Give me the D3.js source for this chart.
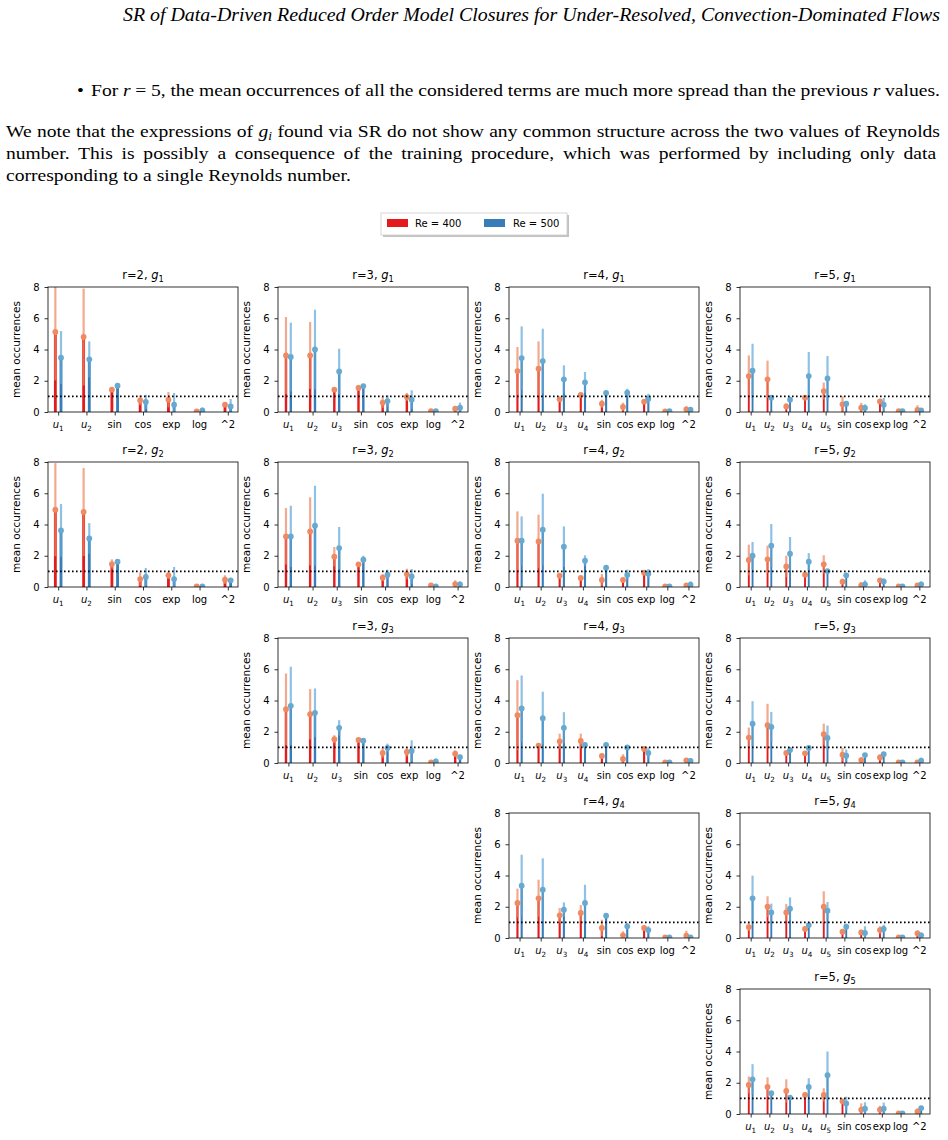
<!DOCTYPE html>
<html>
<head>
<meta charset="utf-8">
<script src="https://cdn.jsdelivr.net/npm/d3@7"></script>
<style>
  body { margin: 0; background: #fff; }
  svg text { font-family: "DejaVu Sans", sans-serif; }
  svg text.serif { font-family: "Liberation Serif", "Times New Roman", Times, serif; }
</style>
</head>
<body>
<div id="chart"></div>
<script>
// Tick labels
var stateVars = ["u1", "u2", "u3", "u4", "u5"];
var funcTerms = ["sin", "cos", "exp", "log", "^2"];
var seriesNames = ["Re = 400", "Re = 500"];

// mean / std of occurrences (order: u_1..u_r, sin, cos, exp, log, ^2)
var r2g1_m400 = [5.12, 4.80, 1.43, 0.75, 0.79, 0.04, 0.47];
var r2g1_s400 = [3.10, 3.10, 0.05, 0.32, 0.49, 0.04, 0.10];
var r2g1_m500 = [3.48, 3.37, 1.68, 0.64, 0.47, 0.10, 0.36];
var r2g1_s500 = [1.70, 1.15, 0.05, 0.46, 0.75, 0.18, 0.47];

var r2g2_m400 = [4.95, 4.80, 1.47, 0.51, 0.75, 0.04, 0.47];
var r2g2_s400 = [2.98, 2.81, 0.30, 0.43, 0.25, 0.02, 0.28];
var r2g2_m500 = [3.62, 3.11, 1.62, 0.64, 0.51, 0.04, 0.43];
var r2g2_s500 = [1.69, 0.98, 0.05, 0.58, 0.77, 0.03, 0.05];

var r3g1_m400 = [3.62, 3.62, 1.43, 1.54, 0.60, 0.96, 0.06, 0.21];
var r3g1_s400 = [2.46, 2.14, 0.05, 0.20, 0.36, 0.26, 0.03, 0.17];
var r3g1_m500 = [3.52, 4.00, 2.60, 1.66, 0.70, 0.79, 0.06, 0.28];
var r3g1_s500 = [2.20, 2.55, 1.45, 0.05, 0.37, 0.60, 0.03, 0.32];

var r3g2_m400 = [3.24, 3.56, 1.94, 1.45, 0.60, 0.83, 0.10, 0.19];
var r3g2_s400 = [1.81, 2.18, 0.62, 0.05, 0.23, 0.34, 0.05, 0.24];
var r3g2_m500 = [3.24, 3.92, 2.49, 1.75, 0.79, 0.68, 0.04, 0.17];
var r3g2_s500 = [1.96, 2.56, 1.35, 0.25, 0.32, 0.47, 0.03, 0.19];

var r3g3_m400 = [3.44, 3.12, 1.52, 1.48, 0.64, 0.71, 0.04, 0.60];
var r3g3_s400 = [2.29, 1.61, 0.26, 0.05, 0.32, 0.30, 0.02, 0.21];
var r3g3_m500 = [3.66, 3.21, 2.25, 1.43, 0.96, 0.77, 0.10, 0.38];
var r3g3_s500 = [2.50, 1.56, 0.49, 0.05, 0.28, 0.68, 0.18, 0.15];

var r4g1_m400 = [2.62, 2.77, 0.81, 1.09, 0.53, 0.32, 0.66, 0.04, 0.17];
var r4g1_s400 = [1.54, 1.75, 0.10, 0.08, 0.26, 0.28, 0.08, 0.03, 0.20];
var r4g1_m500 = [3.45, 3.26, 2.09, 1.90, 1.22, 1.24, 0.85, 0.06, 0.15];
var r4g1_s500 = [2.03, 2.07, 0.90, 0.66, 0.07, 0.25, 0.32, 0.03, 0.17];

var r4g2_m400 = [2.96, 2.92, 0.72, 0.58, 0.45, 0.45, 0.92, 0.04, 0.10];
var r4g2_s400 = [1.88, 1.71, 0.18, 0.08, 0.38, 0.17, 0.05, 0.02, 0.09];
var r4g2_m500 = [2.96, 3.67, 2.58, 1.68, 1.24, 0.77, 0.85, 0.04, 0.15];
var r4g2_s500 = [1.56, 2.30, 1.30, 0.35, 0.05, 0.34, 0.30, 0.03, 0.21];

var r4g3_m400 = [3.06, 1.11, 1.39, 1.41, 0.45, 0.26, 0.90, 0.04, 0.17];
var r4g3_s400 = [2.24, 0.05, 0.49, 0.47, 0.15, 0.30, 0.05, 0.02, 0.08];
var r4g3_m500 = [3.49, 2.87, 2.25, 1.16, 1.16, 1.00, 0.64, 0.04, 0.13];
var r4g3_s500 = [2.11, 1.69, 1.00, 0.05, 0.05, 0.05, 0.36, 0.02, 0.15];

var r4g4_m400 = [2.24, 2.54, 1.45, 1.60, 0.64, 0.17, 0.64, 0.04, 0.15];
var r4g4_s400 = [0.92, 1.19, 0.47, 0.51, 0.53, 0.26, 0.05, 0.02, 0.32];
var r4g4_m500 = [3.35, 3.09, 1.81, 2.24, 1.43, 0.75, 0.51, 0.04, 0.04];
var r4g4_s500 = [1.98, 2.01, 0.47, 1.17, 0.07, 0.21, 0.24, 0.02, 0.05];

var r5g1_m400 = [2.30, 2.09, 0.36, 0.92, 1.34, 0.49, 0.28, 0.68, 0.06, 0.13];
var r5g1_s400 = [1.32, 1.20, 0.20, 0.05, 0.54, 0.52, 0.30, 0.07, 0.05, 0.30];
var r5g1_m500 = [2.64, 0.92, 0.79, 2.30, 2.15, 0.53, 0.26, 0.47, 0.06, 0.10];
var r5g1_s500 = [1.73, 0.10, 0.10, 1.54, 1.43, 0.17, 0.23, 0.43, 0.05, 0.11];

var r5g2_m400 = [1.73, 1.77, 1.32, 0.79, 1.45, 0.34, 0.10, 0.43, 0.04, 0.10];
var r5g2_s400 = [0.98, 0.87, 0.68, 0.05, 0.58, 0.19, 0.22, 0.05, 0.02, 0.09];
var r5g2_m500 = [2.00, 2.64, 2.13, 1.62, 1.02, 0.75, 0.17, 0.36, 0.04, 0.17];
var r5g2_s500 = [0.88, 1.39, 1.07, 0.55, 0.05, 0.15, 0.26, 0.17, 0.03, 0.19];

var r5g3_m400 = [1.63, 2.42, 0.64, 0.62, 1.84, 0.53, 0.19, 0.36, 0.04, 0.04];
var r5g3_s400 = [0.64, 1.37, 0.08, 0.10, 0.68, 0.43, 0.19, 0.20, 0.02, 0.03];
var r5g3_m500 = [2.52, 2.31, 0.83, 0.96, 1.60, 0.47, 0.51, 0.56, 0.04, 0.15];
var r5g3_s500 = [1.44, 0.96, 0.20, 0.05, 0.80, 0.39, 0.08, 0.08, 0.03, 0.19];

var r5g4_m400 = [0.70, 2.00, 1.64, 0.58, 2.00, 0.40, 0.36, 0.51, 0.04, 0.30];
var r5g4_s400 = [0.26, 0.67, 0.53, 0.17, 0.99, 0.18, 0.17, 0.24, 0.02, 0.19];
var r5g4_m500 = [2.54, 1.64, 1.88, 0.83, 1.75, 0.72, 0.32, 0.58, 0.04, 0.17];
var r5g4_s500 = [1.45, 0.56, 0.72, 0.07, 0.55, 0.18, 0.43, 0.27, 0.03, 0.19];

var r5g5_m400 = [1.86, 1.73, 1.48, 1.22, 1.22, 0.81, 0.28, 0.28, 0.04, 0.15];
var r5g5_s400 = [0.54, 0.62, 0.74, 0.15, 0.43, 0.10, 0.40, 0.25, 0.02, 0.21];
var r5g5_m500 = [2.22, 1.33, 1.05, 1.73, 2.48, 0.68, 0.34, 0.34, 0.04, 0.38];
var r5g5_s500 = [0.97, 0.07, 0.05, 0.56, 1.52, 0.43, 0.41, 0.39, 0.02, 0.13];

// panel list (r, index of g, the arrays above)
var panels = [
  [2, 1, r2g1_m400, r2g1_s400, r2g1_m500, r2g1_s500],
  [2, 2, r2g2_m400, r2g2_s400, r2g2_m500, r2g2_s500],
  [3, 1, r3g1_m400, r3g1_s400, r3g1_m500, r3g1_s500],
  [3, 2, r3g2_m400, r3g2_s400, r3g2_m500, r3g2_s500],
  [3, 3, r3g3_m400, r3g3_s400, r3g3_m500, r3g3_s500],
  [4, 1, r4g1_m400, r4g1_s400, r4g1_m500, r4g1_s500],
  [4, 2, r4g2_m400, r4g2_s400, r4g2_m500, r4g2_s500],
  [4, 3, r4g3_m400, r4g3_s400, r4g3_m500, r4g3_s500],
  [4, 4, r4g4_m400, r4g4_s400, r4g4_m500, r4g4_s500],
  [5, 1, r5g1_m400, r5g1_s400, r5g1_m500, r5g1_s500],
  [5, 2, r5g2_m400, r5g2_s400, r5g2_m500, r5g2_s500],
  [5, 3, r5g3_m400, r5g3_s400, r5g3_m500, r5g3_s500],
  [5, 4, r5g4_m400, r5g4_s400, r5g4_m500, r5g4_s500],
  [5, 5, r5g5_m400, r5g5_s400, r5g5_m500, r5g5_s500]
];

// Layout
var svgWidth = 948, svgHeight = 1140;
var colLeft = [48, 278, 509, 740];
var rowTop = [287, 462, 638, 813, 989];
var plotW = 190, plotH = 125;

var barColor = ["#e41a1c", "#377eb8"];
var errColor = ["#f0845c", "#5fa6d8"];
var dotColor = ["#ef8a62", "#67a9cf"];

var svg = d3.select("#chart").append("svg")
  .attr("width", svgWidth)
  .attr("height", svgHeight);

// the page text in the picture is a bit wider than Times at its height
var sx = 1.12;

// a serif text line placed at (x, y), horizontally stretched by sx
function serifLine(x, y, size) {
  return svg.append("g")
    .attr("transform", `translate(${x}, ${y}) scale(${sx}, 1)`)
    .append("text").attr("class", "serif")
    .attr("x", 0).attr("y", 0)
    .attr("font-size", size);
}

// justify a line so that it ends at xEnd, by stretching word spacing
function justify(t, x0, xEnd) {
  var node = t.node();
  var natural = node.getComputedTextLength();
  var spaces = (node.textContent.match(/ /g) || []).length;
  var target = (xEnd - x0) / sx;
  if (spaces > 0) t.attr("word-spacing", (target - natural) / spaces);
}

// ---- page text ----
svg.append("text").attr("class", "serif")
  .attr("x", 123).attr("y", 21)
  .attr("font-size", 18).attr("font-style", "italic")
  .attr("textLength", 817).attr("lengthAdjust", "spacingAndGlyphs")
  .text("SR of Data-Driven Reduced Order Model Closures for Under-Resolved, Convection-Dominated Flows");

serifLine(77, 96, 17.5).text("\u2022");

var bullet = serifLine(91, 96, 17.5);
bullet.append("tspan").text("For ");
bullet.append("tspan").attr("font-style", "italic").text("r");
bullet.append("tspan").text(" = 5, the mean occurrences of all the considered terms are much more spread than the previous ");
bullet.append("tspan").attr("font-style", "italic").text("r");
bullet.append("tspan").text(" values.");
justify(bullet, 91, 940);

var para1 = serifLine(6, 137, 17.5);
para1.append("tspan").text("We note that the expressions of ");
para1.append("tspan").attr("font-style", "italic").text("g");
para1.append("tspan").attr("font-style", "italic").attr("font-size", 12).attr("dy", 3).text("i");
para1.append("tspan").attr("dy", -3).text(" found via SR do not show any common structure across the two values of Reynolds");
justify(para1, 6, 940);

var para2 = serifLine(6, 159, 17.5)
  .text("number.  This is possibly a consequence of the training procedure, which was performed by including only data");
justify(para2, 6, 940);

serifLine(6, 181, 17.5).text("corresponding to a single Reynolds number.");

// ---- legend ----
var legend = svg.append("g").attr("transform", "translate(381,213)");
legend.append("rect").attr("x", 2).attr("y", 2).attr("width", 186).attr("height", 22)
  .attr("fill", "#999").attr("opacity", 0.6);
legend.append("rect").attr("width", 186).attr("height", 22)
  .attr("fill", "#fff").attr("stroke", "#ccc").attr("stroke-width", 0.8);
seriesNames.forEach(function(name, i) {
  legend.append("rect").attr("x", 6 + i * 97).attr("y", 6).attr("width", 21).attr("height", 8)
    .attr("fill", barColor[i]);
  legend.append("text").attr("x", 34 + i * 98).attr("y", 13.5).attr("font-size", 10)
    .text(name);
});

// ---- panels ----
function addMathLabel(sel, label, size) {
  // u1 -> italic u with subscript 1, otherwise plain
  if (/^u\d$/.test(label)) {
    sel.append("tspan").attr("font-style", "italic").text("u");
    sel.append("tspan").attr("font-size", size * 0.72).attr("dy", size * 0.25).text(label[1]);
  } else {
    sel.text(label);
  }
}

var tickFont = 10, labelFont = 10.5, titleFont = 11.5;

panels.forEach(function(p, k) {
  var r = p[0], gi = p[1];
  var means = [p[2], p[4]], stds = [p[3], p[5]];
  var labels = stateVars.slice(0, r).concat(funcTerms);
  var n = labels.length;
  var pad = 0.07 * (n - 1) - 0.06;

  var x = d3.scaleLinear().domain([-pad, n - 1 + pad]).range([0, plotW]);
  var y = d3.scaleLinear().domain([0, 8]).range([plotH, 0]);

  var chartGroup = svg.append("g")
    .attr("transform", `translate(${colLeft[r - 2]}, ${rowTop[gi - 1]})`);

  chartGroup.append("clipPath").attr("id", "clip" + k)
    .append("rect").attr("width", plotW).attr("height", plotH);

  var marks = chartGroup.append("g").attr("clip-path", `url(#clip${k})`);

  [0, 1].forEach(function(si) {
    var off = si === 0 ? -0.1 : 0.1;
    var rows = means[si].map(function(m, i) { return { i: i, m: m, s: stds[si][i] }; });

    marks.selectAll(null).data(rows).enter().append("rect")
      .attr("x", d => x(d.i + off - 0.05))
      .attr("width", x(0.1) - x(0))
      .attr("y", d => y(d.m))
      .attr("height", d => plotH - y(d.m))
      .attr("fill", barColor[si]);

    marks.selectAll(null).data(rows).enter().append("line")
      .attr("x1", d => x(d.i + off)).attr("x2", d => x(d.i + off))
      .attr("y1", d => y(Math.max(0, d.m - d.s)))
      .attr("y2", d => y(d.m + d.s))
      .attr("stroke", errColor[si])
      .attr("stroke-width", 2.2)
      .attr("stroke-opacity", 0.7);

    marks.selectAll(null).data(rows).enter().append("circle")
      .attr("cx", d => x(d.i + off))
      .attr("cy", d => y(d.m))
      .attr("r", 2.9)
      .attr("fill", dotColor[si]);
  });

  // reference line at 1
  chartGroup.append("line")
    .attr("x1", 0).attr("x2", plotW)
    .attr("y1", y(1)).attr("y2", y(1))
    .attr("stroke", "#000").attr("stroke-width", 1.6)
    .attr("stroke-dasharray", "1.6,2.4");

  // axes
  var leftAxis = d3.axisLeft(y).tickValues([0, 2, 4, 6, 8]).tickSize(3.5).tickPadding(5);
  var yAxisG = chartGroup.append("g").call(leftAxis);
  yAxisG.select(".domain").remove();
  yAxisG.selectAll("text").attr("font-size", tickFont).attr("font-family", "DejaVu Sans").attr("fill", "#000");
  yAxisG.selectAll("line").attr("stroke", "#000").attr("stroke-width", 0.8);

  var bottomAxis = d3.axisBottom(x).tickValues(d3.range(n)).tickSize(3.5).tickFormat("");
  var xAxisG = chartGroup.append("g").attr("transform", `translate(0, ${plotH})`).call(bottomAxis);
  xAxisG.select(".domain").remove();
  xAxisG.selectAll("line").attr("stroke", "#000").attr("stroke-width", 0.8);

  labels.forEach(function(lab, i) {
    var t = chartGroup.append("text")
      .attr("x", x(i)).attr("y", plotH + 16)
      .attr("text-anchor", "middle")
      .attr("font-size", tickFont);
    addMathLabel(t, lab, tickFont);
  });

  // frame
  chartGroup.append("rect")
    .attr("width", plotW).attr("height", plotH)
    .attr("fill", "none").attr("stroke", "#000").attr("stroke-width", 0.8);

  // title
  var title = chartGroup.append("text")
    .attr("x", plotW / 2).attr("y", -8)
    .attr("text-anchor", "middle").attr("font-size", titleFont);
  title.append("tspan").text(`r=${r}, `);
  title.append("tspan").attr("font-style", "italic").text("g");
  title.append("tspan").attr("font-size", titleFont * 0.72).attr("dy", 2.5).text(gi);

  // y label
  chartGroup.append("text")
    .attr("text-anchor", "middle")
    .attr("transform", `translate(-28, ${plotH / 2})rotate(-90)`)
    .attr("font-size", labelFont)
    .text("mean occurrences");
});
</script>
</body>
</html>
